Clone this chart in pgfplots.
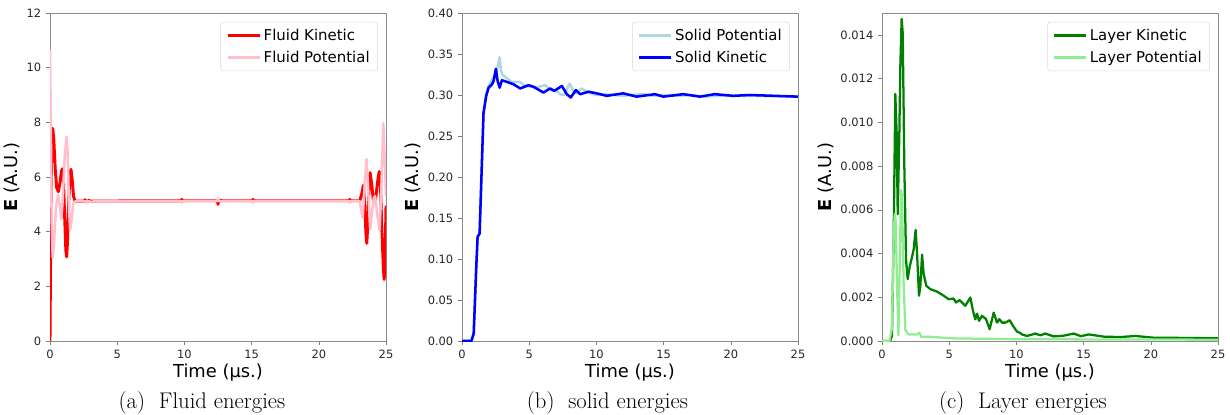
\documentclass[border=0pt]{standalone}
\usepackage{fontspec}
\usepackage{pgfplots}
\pgfplotsset{compat=1.18}
\newfontfamily\dejavu{DejaVu Sans}

\definecolor{mplpink}{HTML}{FFC0CB}
\definecolor{mpllightblue}{HTML}{ADD8E6}
\definecolor{mplgreen}{HTML}{008000}
\definecolor{mpllightgreen}{HTML}{90EE90}

\pgfplotsset{
  energy/.style={
    scale only axis,
    width=252pt, height=246pt,
    anchor=south west,
    xmin=0, xmax=25,
    xtick={0,5,10,15,20,25},
    xtick pos=bottom, ytick pos=left,
    tick align=outside,
    major tick length=3pt,
    every tick/.style={black!50},
    axis line style={black!45},
    /pgf/number format/assume math mode=true,
    ticklabel style={font=\dejavu\fontsize{8.6}{10}\selectfont, text=black!85},
    xlabel={Time (µs.)},
    ylabel={\textbf{E} (A.U.)},
    label style={font=\dejavu\fontsize{13.4}{15}\selectfont},
    xlabel style={yshift=3pt},
    ylabel style={yshift=-2pt},
    legend cell align=left,
    legend style={at={(0.976,0.973)}, anchor=north east,
      font=\dejavu\fontsize{11.2}{13}\selectfont,
      draw=black!15, rounded corners=2pt,
      inner xsep=4pt, inner ysep=3pt, row sep=2.5pt},
    legend image code/.code={\draw[#1] (0pt,0pt) -- (24pt,0pt);},
    line join=round,
  }
}

\begin{document}
\begin{tikzpicture}
\path[use as bounding box] (0,0) rectangle (922.5pt,310.5pt);

% (a) fluid
\begin{axis}[energy, at={(37.5pt,54.75pt)}, ymin=0, ymax=12, ytick={0,2,...,12}]
\addplot[red, line width=2.2pt] coordinates {
(0,0) (0.05,3.5) (0.12,6.8) (0.2,7.78) (0.28,7.4) (0.4,6.2) (0.5,5.6) (0.62,5.46)
(0.75,5.8) (0.85,6.2) (0.92,6.3) (1.0,5.9) (1.1,4.4) (1.18,3.3) (1.24,3.08) (1.3,3.6)
(1.4,5.2) (1.5,6.2) (1.56,6.28) (1.65,5.9) (1.75,5.3) (1.86,5.12) (2.0,5.12)
(2.55,5.12) (2.6,5.17) (2.65,5.12) (2.85,5.12) (2.9,5.15) (2.95,5.12)
(9.75,5.13) (9.8,5.18) (9.85,5.13) (12.45,5.13) (12.5,5.0) (12.55,5.13)
(12.7,5.15) (12.8,5.13) (15.05,5.13) (15.1,5.18) (15.15,5.13)
(22.25,5.13) (22.3,5.18) (22.35,5.13) (23.05,5.13) (23.2,5.4) (23.32,5.7)
(23.42,5.0) (23.5,4.0) (23.57,3.57) (23.65,4.3) (23.75,5.8) (23.82,6.16)
(23.92,5.8) (24.05,5.2) (24.19,5.04) (24.3,5.5) (24.42,6.0) (24.5,6.2)
(24.58,5.8) (24.7,4.0) (24.8,2.7) (24.86,2.25) (24.92,2.6) (25,4.95)
};
\addlegendentry{Fluid Kinetic}
\addplot[mplpink, line width=1.9pt] coordinates {
(0,10.66) (0.05,8.5) (0.12,4.5) (0.2,3.05) (0.3,3.6) (0.45,4.9) (0.6,5.34)
(0.72,5.0) (0.85,4.46) (0.95,5.2) (1.1,6.8) (1.24,7.48) (1.32,6.8) (1.42,4.8)
(1.5,4.06) (1.6,4.4) (1.72,5.0) (1.85,5.1) (2.0,5.12) (2.6,5.12) (2.65,5.05)
(2.7,5.12) (3.0,5.1) (3.1,5.06) (3.2,5.11) (9.75,5.12) (9.8,5.06) (9.85,5.12)
(12.45,5.12) (12.5,5.22) (12.55,5.12) (15.05,5.12) (15.1,5.06) (15.15,5.12)
(22.25,5.12) (22.3,5.06) (22.35,5.12) (23.05,5.12) (23.15,4.8) (23.27,4.52)
(23.4,5.6) (23.55,6.65) (23.68,5.5) (23.82,4.08) (23.95,4.7) (24.1,5.25)
(24.19,5.3) (24.35,4.6) (24.52,4.06) (24.65,5.5) (24.8,7.97) (24.9,6.8) (25,5.3)
};
\addlegendentry{Fluid Potential}
\end{axis}
\node[font=\fontsize{17}{19}\selectfont] at (151.5pt,8.25pt) {(a)\ \ Fluid energies};

% (b) solid
\begin{axis}[energy, at={(346.5pt,54.75pt)}, ymin=0, ymax=0.4, ytick={0,0.05,...,0.401},
  yticklabel style={/pgf/number format/fixed, /pgf/number format/fixed zerofill,
    /pgf/number format/precision=2}]
\addplot[mpllightblue, line width=1.9pt] coordinates {
(0,0) (0.7,0) (0.87,0.01) (1.06,0.09) (1.16,0.127) (1.31,0.132) (1.44,0.197)
(1.6,0.278) (1.8,0.3) (1.98,0.311) (2.2,0.318) (2.4,0.322) (2.6,0.33)
(2.8,0.346) (2.9,0.33) (3.0,0.325) (3.3,0.321) (3.7,0.316) (4.3,0.316)
(4.7,0.311) (5.2,0.31) (5.7,0.31) (6.2,0.312) (6.6,0.306) (7.0,0.305)
(7.3,0.301) (7.6,0.3) (8.0,0.314) (8.3,0.305) (8.5,0.302) (8.9,0.308)
(9.4,0.303) (10.0,0.3) (10.6,0.301) (11.3,0.3) (12.0,0.299) (12.6,0.3)
(13.5,0.301) (14.2,0.299) (15.0,0.3) (16.0,0.299) (17.0,0.3) (18.0,0.298)
(19.0,0.299) (20.0,0.299) (21.0,0.299) (22.0,0.299) (25,0.298)
};
\addlegendentry{Solid Potential}
\addplot[blue, line width=1.9pt] coordinates {
(0,0) (0.7,0) (0.87,0.009) (1.06,0.09) (1.16,0.127) (1.31,0.131) (1.44,0.197)
(1.6,0.278) (1.8,0.299) (1.98,0.309) (2.23,0.313) (2.35,0.317) (2.52,0.332)
(2.65,0.317) (2.8,0.309) (2.97,0.318) (3.34,0.316) (3.84,0.313) (4.33,0.308)
(4.95,0.312) (5.32,0.31) (6.06,0.303) (6.56,0.308) (6.86,0.305) (7.43,0.311)
(7.8,0.301) (8.09,0.297) (8.47,0.306) (8.79,0.301) (9.41,0.304) (10.02,0.302)
(10.77,0.299) (12.0,0.302) (13.0,0.298) (14.36,0.301) (14.98,0.298)
(16.46,0.301) (17.7,0.298) (18.8,0.301) (20.2,0.299) (21.4,0.3) (25,0.298)
};
\addlegendentry{Solid Kinetic}
\end{axis}
\node[font=\fontsize{17}{19}\selectfont] at (455.6pt,8.25pt) {(b)\ \ solid energies};

% (c) layer
\begin{axis}[energy, at={(661.5pt,54.75pt)}, ymin=0, ymax=0.015, ytick={0,0.002,...,0.0141},
  scaled y ticks=false,
  yticklabel style={/pgf/number format/fixed, /pgf/number format/fixed zerofill,
    /pgf/number format/precision=3}]
\addplot[mplgreen, line width=1.7pt] coordinates {
(0,0) (0.6,0) (0.74,0.00023) (0.87,0.0049) (0.99,0.0113) (1.09,0.0095)
(1.17,0.0058) (1.29,0.0095) (1.36,0.0125) (1.46,0.01473) (1.54,0.0141)
(1.66,0.008) (1.79,0.0037) (1.91,0.00283) (2.06,0.0034) (2.23,0.00383)
(2.36,0.0042) (2.5,0.00508) (2.6,0.0041) (2.75,0.00207) (2.85,0.0025)
(2.98,0.00395) (3.1,0.00306) (3.3,0.00252) (3.6,0.00237) (4.09,0.00226)
(4.59,0.00207) (4.96,0.00191) (5.33,0.00194) (5.5,0.00176) (5.78,0.00187)
(6.2,0.00161) (6.57,0.00199) (6.77,0.00138) (6.94,0.00099) (7.07,0.00125)
(7.22,0.00092) (7.44,0.00115) (7.74,0.001) (8.01,0.00054) (8.31,0.0013)
(8.56,0.00084) (8.73,0.001) (8.93,0.00084) (9.18,0.00084) (9.5,0.00095)
(9.75,0.00069) (10.04,0.00043) (10.24,0.00038) (10.42,0.0003) (10.79,0.00023)
(11.41,0.00034) (11.78,0.00026) (12.15,0.00034) (12.77,0.00021) (13.5,0.00024)
(14.26,0.00034) (14.8,0.00022) (15.38,0.0003) (16.5,0.0002) (17.73,0.00018)
(18.85,0.00023) (20.21,0.00015) (22.7,0.00014) (25,0.00012)
};
\addlegendentry{Layer Kinetic}
\addplot[mpllightgreen, line width=1.7pt] coordinates {
(0,0) (0.55,0) (0.74,0.0006) (0.87,0.0049) (0.95,0.0058) (1.02,0.0055)
(1.12,0.0025) (1.22,0.00026) (1.31,0.0031) (1.41,0.0069) (1.49,0.0066)
(1.61,0.0026) (1.74,0.0005) (1.98,0.0003) (2.6,0.0003) (2.78,0.00038)
(2.93,0.00018) (3.35,0.0002) (5.33,0.00012) (10.3,0.00008) (25,0.00006)
};
\addlegendentry{Layer Potential}
\end{axis}
\node[font=\fontsize{17}{19}\selectfont] at (767.25pt,8.25pt) {(c)\ \ Layer energies};
\end{tikzpicture}
\end{document}
